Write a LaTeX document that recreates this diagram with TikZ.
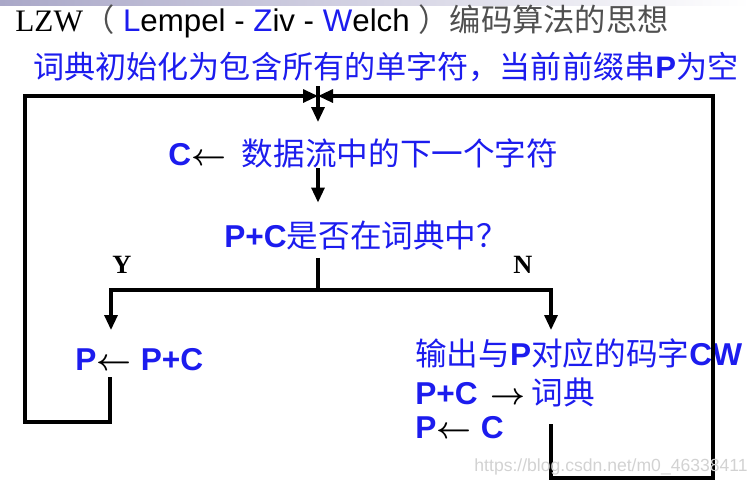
\documentclass[tikz,border=0pt]{standalone}
\usepackage{amsmath}
\usepackage{fontspec}
\setmainfont{Liberation Sans}
\newfontfamily\cjkfont{Noto Sans CJK SC}
\newfontfamily\romanfont{Liberation Serif}
\usetikzlibrary{arrows.meta,calc,positioning}
\definecolor{textblue}{RGB}{28,28,238}
\definecolor{titlegray}{RGB}{80,80,80}
\definecolor{bandgray}{RGB}{170,168,200}
\newcommand{\lt}[1]{{\normalfont\bfseries #1}}
\newcommand{\la}{\textcolor{black}{\(\boldsymbol{\leftarrow}\)}}
\newcommand{\ra}{\textcolor{black}{\(\boldsymbol{\rightarrow}\)}}

\begin{document}
\begin{tikzpicture}[x=0.02cm, y=-0.02cm,
  wire/.style={line width=1.8pt},
  flow/.style={wire, -{Triangle[length=3mm,width=2.6mm]}},
  bluetext/.style={text=textblue, inner sep=0pt, anchor=west,
    font=\cjkfont\fontsize{18}{21}\selectfont},
  branch/.style={inner sep=0pt, font=\romanfont\bfseries\fontsize{15}{17}\selectfont}]
  \useasboundingbox (0,0) rectangle (750,485);
  \shade[left color=bandgray, right color=white] (0,0) rectangle (750,5);

  % Heading and initial step.
  \node[inner sep=0pt, anchor=base west, font=\fontsize{17.8}{21}\selectfont]
    (title) at (15,31)
    {{\romanfont LZW}{\cjkfont\color{titlegray}（}
     \textcolor{textblue}{L}empel - \textcolor{textblue}{Z}iv -
     \textcolor{textblue}{W}elch {\cjkfont\color{titlegray}）编码算法的思想}};
  \node[bluetext, font=\cjkfont\fontsize{17.7}{21}\selectfont] (init) at (33,67)
    {词典初始化为包含所有的单字符，当前前缀串\lt{P}为空};

  \node[bluetext] (readc) at (168,153)
    {\lt{C}\la\hspace{0.5em}数据流中的下一个字符};
  \node[bluetext] (test) at (224,235) {\lt{P+C}是否在词典中？};

  \node[branch] (ylab) at (122,265) {Y};
  \node[branch] (nlab) at (523,265) {N};

  \node[bluetext] (yes) at (75,360) {\lt{P}\la\hspace{0.3em}\lt{P+C}};
  \node[bluetext] (out) at (415,353) {输出与\lt{P}对应的码字\lt{CW}};
  \node[bluetext] (add) at (415,392) {\lt{P+C}\hspace{0.4em}\ra\hspace{0.2em}词典};
  \node[bluetext] (setp) at (415,428) {\lt{P}\la\hspace{0.3em}\lt{C}};

  \coordinate (top) at (318,96);
  \coordinate (entry) at (318,122);
  \coordinate (split) at (318,290);
  \coordinate (yhead) at (111,330);
  \coordinate (nhead) at (551,330);
  \coordinate (ytail) at (110,377);
  \coordinate (lcorner) at (25,422);
  \coordinate (ntail) at (551,424);
  \coordinate (rcorner) at (713,478);

  % Main path through the loop.
  \draw[flow] ($(top)+(0,-10)$) -- (entry);
  \draw[flow, shorten >=3.5mm] (top |- readc.south) -- (top |- test.north);
  \draw[wire, shorten <=1.6mm] (top |- test.south) -- (split);
  \draw[flow] (split) -| (yhead);
  \draw[flow] (split) -| (nhead);

  % Both branches return to the top.
  \draw[flow] (ytail) |- (lcorner) |- (top);
  \draw[flow] (ntail) |- (rcorner) |- (top);

  \node[text=gray!35, inner sep=0pt, anchor=east, font=\fontsize{10}{12}\selectfont]
    (mark) at (748,467) {https://blog.csdn.net/m0\_46338411};
\end{tikzpicture}
\end{document}
